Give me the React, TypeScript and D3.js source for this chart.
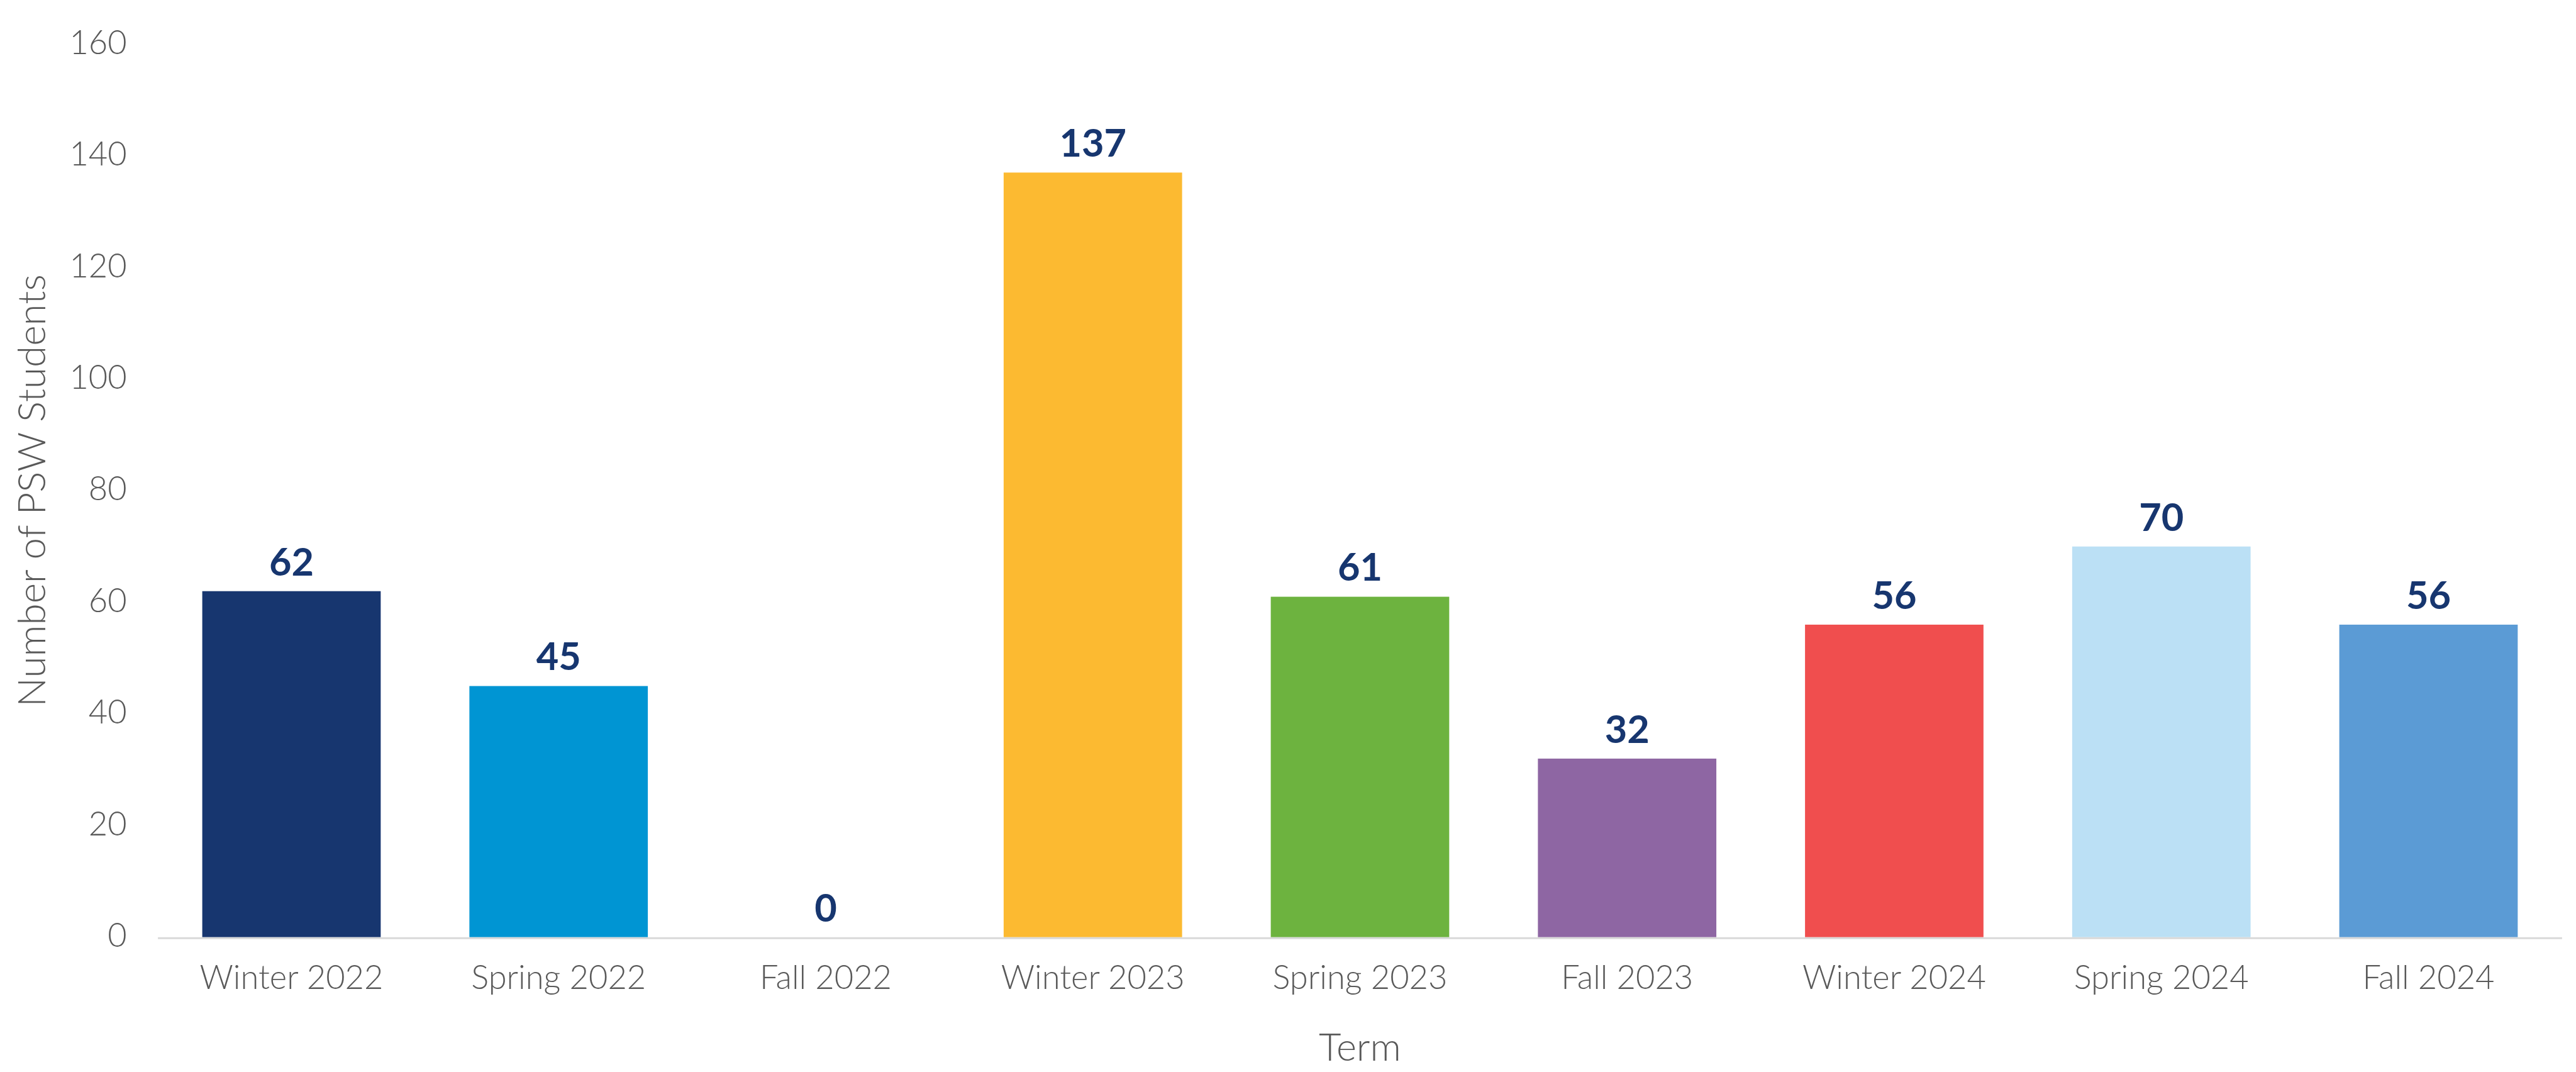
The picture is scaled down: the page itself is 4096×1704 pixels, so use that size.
import React from "react";
import * as d3 from "d3";

const categories = ["Winter 2022", "Spring 2022", "Fall 2022", "Winter 2023", "Spring 2023", "Fall 2023", "Winter 2024", "Spring 2024", "Fall 2024"];
const values = [62, 45, 0, 137, 61, 32, 56, 70, 56];
const barColors = ["#17366F", "#0095D3", "#17366F", "#FCBA31", "#6DB33F", "#8E66A3", "#F04E4E", "#BBE0F5", "#5B9BD5"];
const yTicks = [0, 20, 40, 60, 80, 100, 120, 140, 160];
const yTitle = "Number of PSW Students";
const xTitle = "Term";

const W = 5546;
const H = 2307;
const FONT = "Lato, 'Noto Sans', sans-serif";

export default function App() {
  const x = d3.scaleBand<string>().domain(categories).range([340, 5516]).paddingInner(0.332).paddingOuter(0.166);
  const y = d3.scaleLinear().domain([0, 160]).range([2017, 95]);
  return (
    <svg
      width={4096}
      height={1704}
      viewBox={`0 0 ${W} ${H}`}
      style={{ position: "absolute", left: 0, top: 0, background: "#fff" }}
    >
      <rect x={0} y={0} width={W} height={H} fill="#fff" />
      {yTicks.map((t) => (
        <text key={t} x={273} y={y(t) + 21} textAnchor="end" fontFamily={FONT} fontWeight={300} fontSize={71} fill="#595959">
          {t}
        </text>
      ))}
      {categories.map((c, i) => (
        <rect key={c} x={x(c)} y={y(values[i])} width={x.bandwidth()} height={y(0) - y(values[i])} fill={barColors[i]} />
      ))}
      <line x1={340} x2={5516} y1={2019} y2={2019} stroke="#D9D9D9" strokeWidth={4} />
      {categories.map((c, i) => (
        <text key={c + "v"} x={(x(c) as number) + x.bandwidth() / 2} y={y(values[i]) - 34} textAnchor="middle" fontFamily={FONT} fontWeight={700} fontSize={83} fill="#17366F">
          {values[i]}
        </text>
      ))}
      {categories.map((c) => (
        <text key={c + "l"} x={(x(c) as number) + x.bandwidth() / 2} y={2129} textAnchor="middle" fontFamily={FONT} fontWeight={300} fontSize={71} fill="#595959">
          {c}
        </text>
      ))}
      <text x={2928} y={2283} textAnchor="middle" fontFamily={FONT} fontWeight={300} fontSize={83} fill="#595959">
        {xTitle}
      </text>
      <text transform={`translate(97,1056) rotate(-90)`} textAnchor="middle" fontFamily={FONT} fontWeight={300} fontSize={84} fill="#595959">
        {yTitle}
      </text>
    </svg>
  );
}
